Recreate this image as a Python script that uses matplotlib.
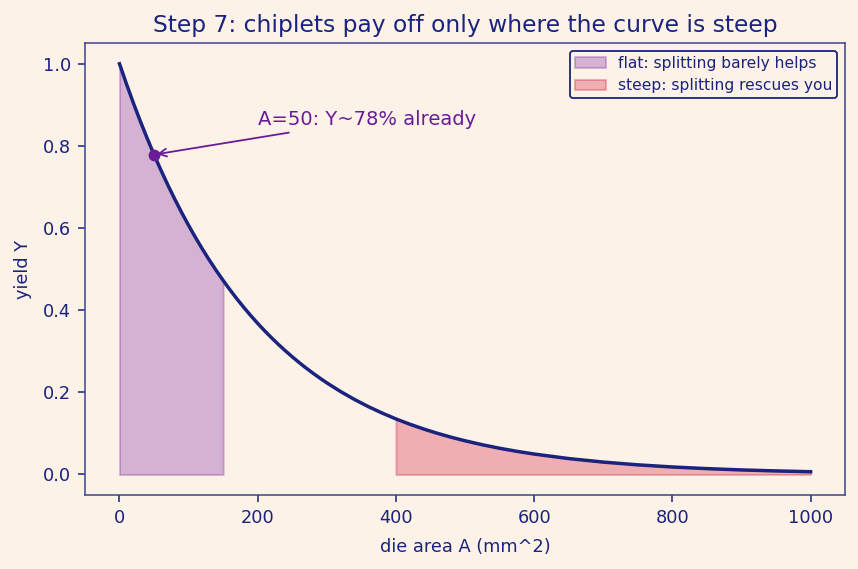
import numpy as np
import matplotlib
matplotlib.use("Agg")
import matplotlib.pyplot as plt

# die area (mm^2) and yield
area = [0, 10, 20, 30, 40, 50, 60, 70, 80, 90, 100, 110, 120, 130, 140, 150,
        160, 170, 180, 190, 200, 210, 220, 230, 240, 250, 260, 270, 280, 290,
        300, 320, 340, 360, 380, 400, 420, 440, 460, 480, 500, 525, 550, 575,
        600, 650, 700, 750, 800, 850, 900, 950, 1000]
yld = [1.0000, 0.9512, 0.9048, 0.8607, 0.8187, 0.7788, 0.7408, 0.7047, 0.6703,
       0.6376, 0.6065, 0.5769, 0.5488, 0.5220, 0.4966, 0.4724, 0.4493, 0.4274,
       0.4066, 0.3867, 0.3679, 0.3499, 0.3329, 0.3166, 0.3012, 0.2865, 0.2725,
       0.2592, 0.2466, 0.2346, 0.2231, 0.2019, 0.1827, 0.1653, 0.1496, 0.1353,
       0.1225, 0.1108, 0.1003, 0.0907, 0.0821, 0.0724, 0.0639, 0.0564, 0.0498,
       0.0388, 0.0302, 0.0235, 0.0183, 0.0143, 0.0111, 0.0087, 0.0067]
flat_max = 150
steep_min = 400
pt_area, pt_yield = 50, 0.7788

bg = "#fdf2e8"
navy = "#1a237e"
purple = "#6a1b9a"

A = np.array(area)
Y = np.array(yld)

fig = plt.figure(figsize=(8.58, 5.69), dpi=100, facecolor=bg)
ax = fig.add_axes([0.099, 0.130, 0.886, 0.794], facecolor=bg)

ax.fill_between(A, 0, Y, where=A <= flat_max, color="#7b1fa2", alpha=0.3,
                lw=1.4, label="flat: splitting barely helps")
ax.fill_between(A, 0, Y, where=A >= steep_min, color="#d32f4f", alpha=0.35,
                lw=1.4, label="steep: splitting rescues you")
ax.plot(A, Y, color=navy, lw=2.5)
ax.plot(pt_area, pt_yield, "o", color=purple, ms=7.5, zorder=5)
ax.annotate("A=50: Y~78% already", xy=(pt_area, pt_yield), xytext=(200, 0.85),
            color=purple, fontsize=14,
            arrowprops=dict(arrowstyle="->", color=purple, lw=1.3))

ax.set_title("Step 7: chiplets pay off only where the curve is steep",
             color=navy, fontsize=16.8, pad=8)
ax.set_xlabel("die area A (mm^2)", color=navy, fontsize=12.8, labelpad=8)
ax.set_ylabel("yield Y", color=navy, fontsize=12.8, labelpad=8)
ax.tick_params(colors=navy, labelsize=12.8, length=5, width=1.1, pad=5)
for s in ax.spines.values():
    s.set_color("#3f418f")
    s.set_linewidth(1.1)
ax.set_xlim(-50, 1050)
ax.set_ylim(-0.05, 1.05)

leg = ax.legend(loc="upper right", fontsize=11.2, facecolor=bg, edgecolor=navy,
                labelcolor=navy, framealpha=1, borderpad=0.3, handletextpad=0.8)
leg.get_frame().set_linewidth(1.3)

fig.savefig("out.png", dpi=100, facecolor=bg)
